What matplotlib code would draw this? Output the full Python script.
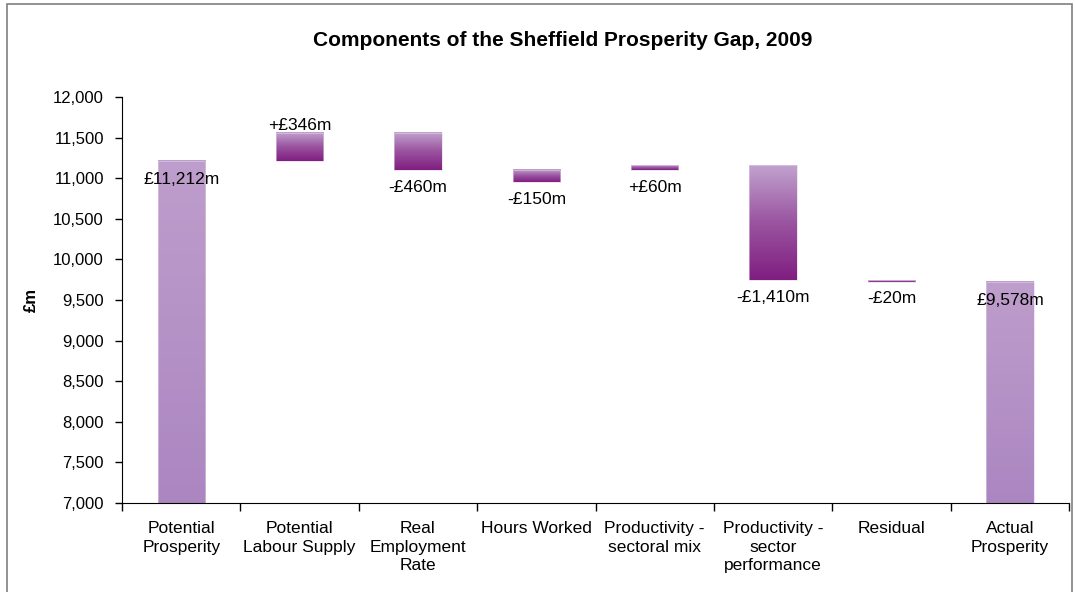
import numpy as np
import matplotlib.pyplot as plt
from matplotlib.colors import LinearSegmentedColormap
from matplotlib.patches import Rectangle

plt.rcParams['font.family'] = ['Liberation Sans', 'DejaVu Sans']

# categories and values
categories = ['Potential\nProsperity', 'Potential\nLabour Supply', 'Real\nEmployment\nRate',
              'Hours Worked', 'Productivity -\nsectoral mix', 'Productivity -\nsector\nperformance',
              'Residual', 'Actual\nProsperity']
bar_bottom = [7000, 11212, 11098, 10948, 11098, 9748, 9728, 7000]
bar_top = [11212, 11558, 11558, 11098, 11158, 11158, 9748, 9728]
value_labels = ['£11,212m', '+£346m', '-£460m', '-£150m', '+£60m', '-£1,410m', '-£20m', '£9,578m']
is_total = [True, False, False, False, False, False, False, True]
label_above = [False, True, False, False, False, False, False, False]

fig = plt.figure(figsize=(10.75, 5.92), dpi=100)
ax = fig.add_axes([0.1135, 0.1503, 0.881, 0.6858])

cmap_change = LinearSegmentedColormap.from_list('chg', ['#801E80', '#9A54A0', '#C1A2CE'])
cmap_total = LinearSegmentedColormap.from_list('tot', ['#AB86C1', '#BE9ECC'])
grad = np.linspace(0, 1, 256).reshape(-1, 1)

w = 0.4
for i in range(len(categories)):
    cm = cmap_total if is_total[i] else cmap_change
    ax.imshow(grad, extent=[i - w / 2, i + w / 2, bar_bottom[i], bar_top[i]],
              aspect='auto', cmap=cm, origin='lower', zorder=2)
    ax.add_patch(Rectangle((i - w / 2, bar_bottom[i]), w, bar_top[i] - bar_bottom[i],
                           fill=False, edgecolor='#E2D0E8', lw=0.4, zorder=3))
    if label_above[i]:
        ax.annotate(value_labels[i], (i, bar_top[i]), xytext=(0, 5.5), textcoords='offset points',
                    ha='center', va='center', fontsize=12.5, zorder=4)
    elif is_total[i]:
        ax.annotate(value_labels[i], (i, bar_top[i]), xytext=(0, -13.5), textcoords='offset points',
                    ha='center', va='center', fontsize=12.5, zorder=4)
    else:
        ax.annotate(value_labels[i], (i, bar_bottom[i]), xytext=(0, -12.5), textcoords='offset points',
                    ha='center', va='center', fontsize=12.5, zorder=4)

ax.set_xlim(-0.5, len(categories) - 0.5)
ax.set_ylim(7000, 12000)
ax.set_yticks(np.arange(7000, 12001, 500))
ax.set_yticklabels([f'{v:,}' for v in range(7000, 12001, 500)], fontsize=12)
ax.set_xticks(range(len(categories)))
ax.set_xticklabels(categories, fontsize=12.5, linespacing=1.3, va='top')
ax.set_xticks(np.arange(-0.5, len(categories)), minor=True)
ax.tick_params(axis='x', which='major', length=0, pad=13)
ax.tick_params(axis='x', which='minor', length=6, direction='out', width=1)
ax.tick_params(axis='y', length=5, direction='out', width=1, pad=8)
ax.spines['top'].set_visible(False)
ax.spines['right'].set_visible(False)
ax.set_ylabel('£m', fontsize=12, fontweight='bold')
ax.yaxis.set_label_coords(-0.088, 0.5)

fig.text(0.523, 0.932, 'Components of the Sheffield Prosperity Gap, 2009',
         ha='center', va='center', fontsize=15, fontweight='bold')

# outer chart border
fig.add_artist(Rectangle((7 / 1075, -0.05), 1065 / 1075, 1.044, transform=fig.transFigure,
                         fill=False, edgecolor='#7F7F7F', lw=1.2))

fig.savefig('out.png', dpi=100)
